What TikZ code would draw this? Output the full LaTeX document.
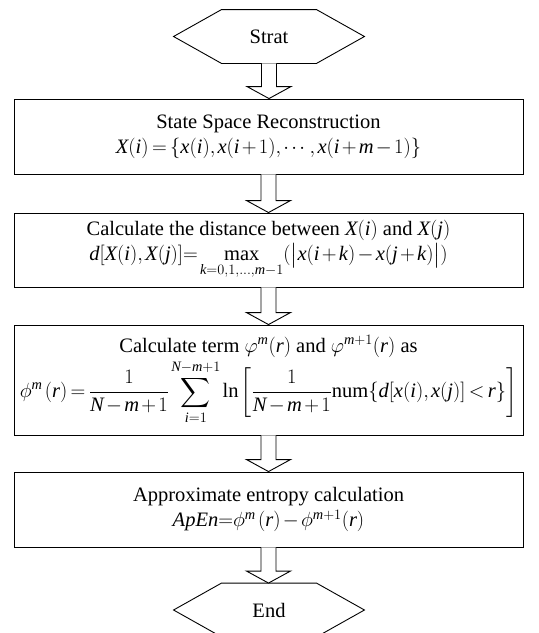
\RequirePackage{fix-cm}
\documentclass[tikz,border=0pt]{standalone}
\usepackage{amsmath}
\usepackage{fontspec}
\setmainfont{Liberation Serif}
\usetikzlibrary{calc}
\newcommand{\mi}[1]{\mathit{#1}}
\newcommand{\tightmath}{\thickmuskip=3mu plus 1mu\medmuskip=2mu plus 1mu\thinmuskip=2mu}
\tikzset{
  base/.style={font=\fontsize{20.5}{25}\selectfont\tightmath, line width=0.9pt},
  procbox/.style={draw, minimum width=509pt, inner sep=0pt, align=center},
  hexnode/.style={minimum width=190pt, minimum height=53pt, inner sep=0pt},
  blockarr/.style={draw, fill=white, line width=0.9pt, line join=miter}
}
\newcommand{\hexoutline}[1]{%
  \draw (#1.west) -- ([xshift=48pt]#1.north west) -- ([xshift=-48pt]#1.north east)
    -- (#1.east) -- ([xshift=-48pt]#1.south east) -- ([xshift=48pt]#1.south west) -- cycle;}
\newcommand{\flowarrow}[2]{%
  \draw[blockarr] let \p1=(#1.south), \p2=(#2.north) in
    (\x1-7.5pt,\y1) -- (\x1-7.5pt,\y2+12pt) -- (\x1-22pt,\y2+12pt) -- (\x1,\y2)
    -- (\x1+22pt,\y2+12pt) -- (\x1+7.5pt,\y2+12pt) -- (\x1+7.5pt,\y1);}
\begin{document}
\begin{tikzpicture}[x=1pt, y=-1pt, base]
\useasboundingbox (0,0) rectangle (539,633);
\clip (0,0) rectangle (539,633);
\fill[white] (0,0) rectangle (539,633);

\node[hexnode] (start) at (269,36.5) {Strat};
\hexoutline{start}

\node[procbox, minimum height=75pt] (recon) at (268.5,136.5)
  {State Space Reconstruction\\ $\mi{X}(\mi{i})=\{\mi{x}(\mi{i}),\mi{x}(\mi{i}+1),\cdots,\mi{x}(\mi{i}+\mi{m}-1)\}$};

\node[procbox, minimum height=74pt] (dist) at (268.5,250)
  {Calculate the distance between $\mi{X}(\mi{i})$ and $\mi{X}(\mi{j})$\\
   $\mi{d}[\mi{X}(\mi{i}),\mi{X}(\mi{j})]{=}\max\limits_{\mi{k}=0,1,\dots,\mi{m}-1}(\bigl|\mi{x}(\mi{i}+\mi{k})-\mi{x}(\mi{j}+\mi{k})\bigr|)$};

\node[procbox, minimum height=110pt] (term) at (268.5,380)
  {Calculate term $\varphi^{\mi{m}}(\mi{r})$ and $\varphi^{\mi{m}+1}(\mi{r})$ as\\[2pt]
   $\displaystyle \phi^{\mi{m}}\,(\mi{r})=\frac{1}{\mi{N}-\mi{m}+1}\sum_{\mi{i}=1}^{\mi{N}-\mi{m}+1}\ln\left[\frac{1}{\mi{N}-\mi{m}+1}\mathrm{num}\{\mi{d}[\mi{x}(\mi{i}),\mi{x}(\mi{j})]<\mi{r}\}\right]$};

\node[procbox, minimum height=75pt] (apen) at (268.5,509.5)
  {Approximate entropy calculation\\
   $\mi{ApEn}{=}\phi^{\mi{m}}\,(\mi{r})-\phi^{\mi{m}+1}(\mi{r})$};

\node[hexnode] (end) at (269,610) {End};
\hexoutline{end}

\flowarrow{start}{recon}
\flowarrow{recon}{dist}
\flowarrow{dist}{term}
\flowarrow{term}{apen}
\flowarrow{apen}{end}
\end{tikzpicture}
\end{document}
